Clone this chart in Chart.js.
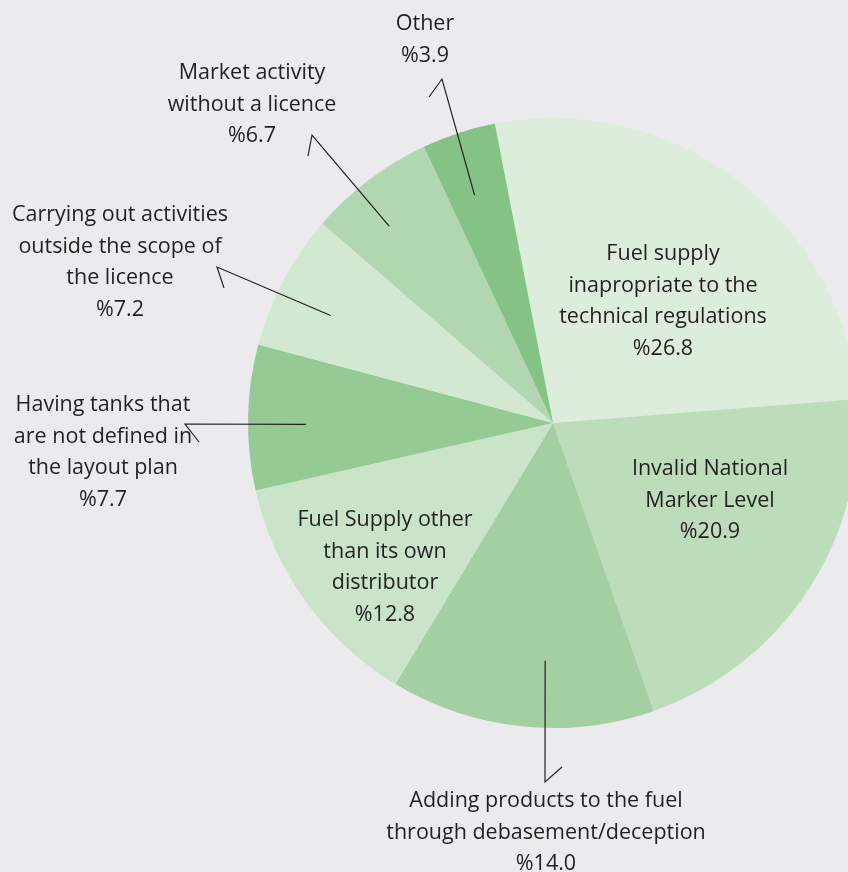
<!DOCTYPE html>
<html>
<head>
<meta charset="utf-8">
<script src="https://cdn.jsdelivr.net/npm/chart.js@4.4.1/dist/chart.umd.min.js"></script>
<style>
  html, body { margin: 0; padding: 0; background: #ebebee; overflow: hidden; }
  #wrap { width: 900px; height: 872px; }
</style>
</head>
<body>
<div id="wrap"><canvas id="c" width="900" height="872"></canvas></div>
<script>
// ---- Data ----
const categories = [
  'Fuel supply inapropriate to the technical regulations',
  'Invalid National Marker Level',
  'Adding products to the fuel through debasement/deception',
  'Fuel Supply other than its own distributor',
  'Having tanks that are not defined in the layout plan',
  'Carrying out activities outside the scope of the licence',
  'Market activity without a licence',
  'Other'
];
const values = [26.8, 20.9, 14.0, 12.8, 7.7, 7.2, 6.7, 3.9];
const labelLines = [
  ['Fuel supply', 'inapropriate to the', 'technical regulations'],
  ['Invalid National', 'Marker Level'],
  ['Adding products to the fuel', 'through debasement/deception'],
  ['Fuel Supply other', 'than its own', 'distributor'],
  ['Having tanks that', 'are not defined in', 'the layout plan'],
  ['Carrying out activities', 'outside the scope of', 'the licence'],
  ['Market activity', 'without a licence'],
  ['Other']
];
const colors = ['#ddeddc', '#bcdcba', '#a3cfa3', '#c9e4c8', '#96ca95', '#d2e9d1', '#b0d7af', '#84c285'];

// ---- Label layout (offsets from pie centre, px) ----
const labelLayout = [
  { x: 110, y: -169 },
  { x: 157, y: 46 },
  { x: -7, y: 378, leader: { t: 0.42, r: 0.78, end: [-8, 359], tick: [9, 344] } },
  { x: -168, y: 97 },
  { x: -450, y: -18, leader: { t: 0.45, r: 0.81, end: [-368, 1], tick: [-354, 19] } },
  { x: -433, y: -208, leader: { t: 0.42, r: 0.81, end: [-336, -156], tick: [-329, -135] } },
  { x: -301, y: -350, leader: { t: 0.39, r: 0.84, end: [-241, -288], tick: [-245, -267] } },
  { x: -128, y: -399, leader: { t: 0.43, r: 0.79, end: [-111, -344], tick: [-124, -326] } }
];
const FONT = '21.5px "Open Sans", "Noto Sans", sans-serif';
const LINE_H = 31.5;
const TEXT_COLOR = '#231f20';

const labelPlugin = {
  id: 'pieLabels',
  afterDatasetsDraw(chart) {
    const ctx = chart.ctx;
    const meta = chart.getDatasetMeta(0);
    ctx.save();
    meta.data.forEach((arc, i) => {
      const p = arc.getProps(['x', 'y', 'startAngle', 'endAngle', 'outerRadius'], true);
      const lay = labelLayout[i];
      if (lay.leader) {
        const L = lay.leader;
        const a = p.startAngle + L.t * (p.endAngle - p.startAngle);
        const sx = p.x + Math.cos(a) * p.outerRadius * L.r;
        const sy = p.y + Math.sin(a) * p.outerRadius * L.r;
        ctx.beginPath();
        ctx.strokeStyle = TEXT_COLOR;
        ctx.lineWidth = 1.2;
        ctx.moveTo(sx, sy);
        ctx.lineTo(p.x + L.end[0], p.y + L.end[1]);
        ctx.lineTo(p.x + L.tick[0], p.y + L.tick[1]);
        ctx.stroke();
      }
      const lines = labelLines[i].concat(['%' + values[i].toFixed(1)]);
      ctx.fillStyle = TEXT_COLOR;
      ctx.font = FONT;
      ctx.textAlign = 'center';
      ctx.textBaseline = 'middle';
      lines.forEach((ln, k) => {
        ctx.fillText(ln, p.x + lay.x, p.y + lay.y + k * LINE_H);
      });
    });
    ctx.restore();
  }
};

new Chart(document.getElementById('c'), {
  type: 'pie',
  data: {
    labels: categories,
    datasets: [{
      data: values,
      backgroundColor: colors,
      borderWidth: 0,
      hoverOffset: 0
    }]
  },
  options: {
    responsive: false,
    animation: false,
    rotation: -11,
    layout: { padding: { left: 248, right: 42, top: 118, bottom: 144 } },
    plugins: {
      legend: { display: false },
      tooltip: { enabled: false }
    },
    events: []
  },
  plugins: [labelPlugin]
});
</script>
</body>
</html>
